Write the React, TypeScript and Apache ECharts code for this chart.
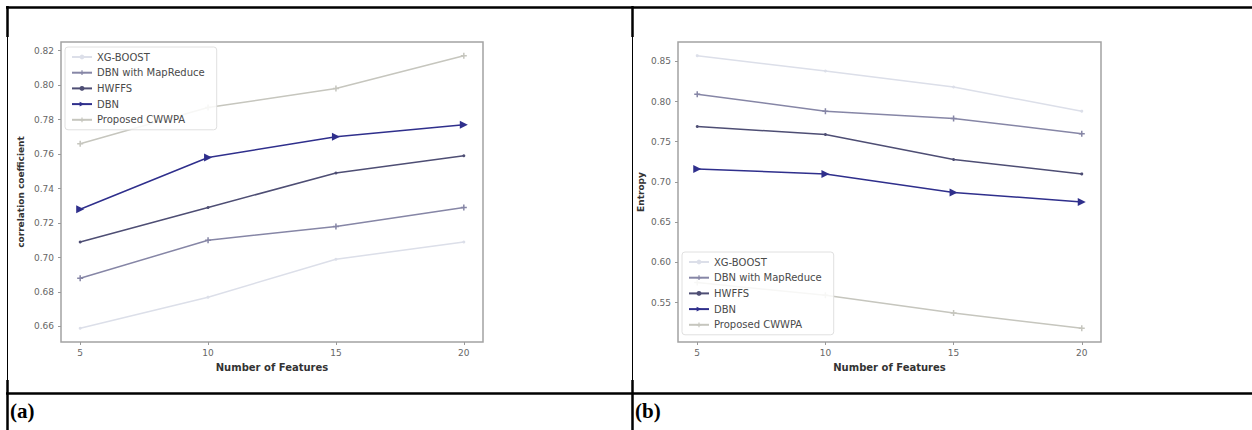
import React, { useEffect, useRef } from "react";
import * as echarts from "echarts";

const features = [5, 10, 15, 20];
const seriesNames = ["XG-BOOST", "DBN with MapReduce", "HWFFS", "DBN", "Proposed CWWPA"];

// (a) correlation coefficient
const corrXgboost = [0.659, 0.677, 0.699, 0.709];
const corrDbnMapReduce = [0.688, 0.710, 0.718, 0.729];
const corrHwffs = [0.709, 0.729, 0.749, 0.759];
const corrDbn = [0.728, 0.758, 0.770, 0.777];
const corrCwwpa = [0.766, 0.787, 0.798, 0.817];

// (b) entropy
const entXgboost = [0.857, 0.838, 0.818, 0.788];
const entDbnMapReduce = [0.809, 0.788, 0.779, 0.760];
const entHwffs = [0.769, 0.759, 0.728, 0.710];
const entDbn = [0.716, 0.710, 0.687, 0.675];
const entCwwpa = [0.575, 0.559, 0.537, 0.518];

const xTicks = [5, 10, 15, 20];
const corrTicks = [0.66, 0.68, 0.70, 0.72, 0.74, 0.76, 0.78, 0.80, 0.82];
const entTicks = [0.55, 0.60, 0.65, 0.70, 0.75, 0.80, 0.85];

const colors = ["#dcdfe9", "#8686a6", "#4e4e74", "#2f2f8c", "#c6c6be"];
const plus = "path://M3,0H5V3H8V5H5V8H3V5H0V3H3Z";
const symbols = ["circle", plus, "circle", "triangle", plus];
const symbolSizes = [3, 6, 3, 8, 6];
const symbolRotates = [0, 0, 0, -90, 0];

const labelFont = "DejaVu Sans";

function makeSeries(datasets: number[][], xIdx: number) {
  return datasets.map((vals, i) => ({
    type: "line",
    name: seriesNames[i],
    xAxisIndex: xIdx,
    yAxisIndex: xIdx,
    data: vals.map((v, j) => [features[j], v]),
    color: colors[i],
    lineStyle: { width: 1.5, color: colors[i] },
    itemStyle: { color: colors[i] },
    symbol: symbols[i],
    symbolSize: symbolSizes[i],
    symbolRotate: symbolRotates[i],
    showSymbol: true,
    z: 3,
  }));
}

function xAxis(gridIndex: number) {
  return {
    type: "value",
    gridIndex,
    min: 4.25,
    max: 20.75,
    name: "Number of Features",
    nameLocation: "middle",
    nameGap: 20,
    nameTextStyle: { fontFamily: labelFont, fontSize: 10, fontWeight: "bold", color: "#333" },
    axisLine: { show: false },
    axisTick: { show: true, length: 3, lineStyle: { color: "#999" }, customValues: xTicks },
    axisLabel: { fontFamily: labelFont, fontSize: 9, color: "#666", margin: 6, customValues: xTicks },
    splitLine: { show: false },
  };
}

function yAxis(gridIndex: number, name: string, min: number, max: number, ticks: number[], gap: number) {
  return {
    type: "value",
    gridIndex,
    min,
    max,
    name,
    nameLocation: "middle",
    nameGap: gap,
    nameTextStyle: { fontFamily: labelFont, fontSize: 9, fontWeight: "bold", color: "#333" },
    axisLine: { show: false },
    axisTick: { show: true, length: 3, lineStyle: { color: "#999" }, customValues: ticks },
    axisLabel: {
      fontFamily: labelFont,
      fontSize: 9,
      color: "#666",
      margin: 7,
      customValues: ticks,
      formatter: (v: number) => v.toFixed(2),
    },
    splitLine: { show: false },
  };
}

function legend(left: number, top: number) {
  return {
    orient: "vertical",
    left,
    top,
    data: seriesNames,
    itemWidth: 20,
    itemHeight: 6,
    itemGap: 5.7,
    padding: [5, 12, 5, 6],
    backgroundColor: "rgba(255,255,255,0.85)",
    borderColor: "#e0e0e0",
    borderWidth: 1,
    borderRadius: 3,
    textStyle: { fontFamily: labelFont, fontSize: 10, color: "#4a4a4a" },
    selectedMode: false,
    z: 10,
  };
}

function vLine(x: number, y1: number, y2: number, w: number) {
  return { type: "line", shape: { x1: x, y1, x2: x, y2 }, style: { stroke: "#000", lineWidth: w }, z: 20 };
}
function hLine(y: number, x1: number, x2: number, w: number) {
  return { type: "line", shape: { x1, y1: y, x2, y2: y }, style: { stroke: "#000", lineWidth: w }, z: 20 };
}

export default function App() {
  const ref = useRef<HTMLDivElement>(null);
  useEffect(() => {
    if (!ref.current) return;
    const chart = echarts.init(ref.current, undefined, { renderer: "svg" });
    const option = {
      animation: false,
      backgroundColor: "#fff",
      grid: [
        { left: 61, top: 42, width: 422, height: 300, show: true, borderColor: "#a3a3a3", borderWidth: 1.5, backgroundColor: "#fff" },
        { left: 678, top: 42, width: 423, height: 300, show: true, borderColor: "#a3a3a3", borderWidth: 1.5, backgroundColor: "#fff" },
      ],
      xAxis: [xAxis(0), xAxis(1)],
      yAxis: [
        yAxis(0, "correlation coefficient", 0.651, 0.825, corrTicks, 36),
        yAxis(1, "Entropy", 0.501, 0.874, entTicks, 33),
      ],
      legend: [legend(65, 47), legend(682, 252)],
      series: [
        ...makeSeries([corrXgboost, corrDbnMapReduce, corrHwffs, corrDbn, corrCwwpa], 0),
        ...makeSeries([entXgboost, entDbnMapReduce, entHwffs, entDbn, entCwwpa], 1),
      ],
      graphic: [
        hLine(7.5, 6, 1252, 2.5),
        vLine(7.5, 6, 37, 2.5),
        vLine(7.5, 37, 380, 1),
        vLine(7.5, 380, 430, 2.5),
        vLine(632.5, 6, 37, 2.5),
        vLine(632.5, 37, 380, 1),
        vLine(632.5, 380, 430, 2.5),
        hLine(393.5, 6, 1252, 2.5),
        {
          type: "text",
          x: 10,
          y: 411,
          style: { text: "(a)", font: "bold 21px 'Liberation Serif'", fill: "#000", verticalAlign: "middle" },
          z: 20,
        },
        {
          type: "text",
          x: 635,
          y: 411,
          style: { text: "(b)", font: "bold 21px 'Liberation Serif'", fill: "#000", verticalAlign: "middle" },
          z: 20,
        },
      ],
    };
    chart.setOption(option as any);
    return () => chart.dispose();
  }, []);
  return <div ref={ref} style={{ position: "absolute", left: 0, top: 0, width: 1252, height: 430 }} />;
}
